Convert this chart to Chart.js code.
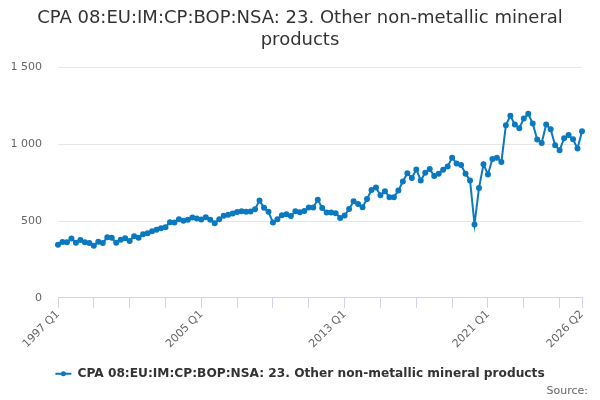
<!DOCTYPE html>
<html>
<head>
<meta charset="utf-8">
<script src="https://cdn.jsdelivr.net/npm/chart.js@4.4.1/dist/chart.umd.min.js"></script>
<style>
html, body { margin: 0; padding: 0; background: #fff; }
#wrap { width: 600px; height: 400px; }
</style>
</head>
<body>
<div id="wrap"><canvas id="chart"></canvas></div>
<script>
var seriesName = 'CPA 08:EU:IM:CP:BOP:NSA: 23. Other non-metallic mineral products';
var titleLines = ['CPA 08:EU:IM:CP:BOP:NSA: 23. Other non-metallic mineral', 'products'];
var sourceText = 'Source:';

// quarterly categories 1997 Q1 .. 2026 Q2
var quarters = [];
for (var yr = 1997; yr <= 2026; yr++) {
    for (var q = 1; q <= 4; q++) {
        if (yr === 2026 && q > 2) break;
        quarters.push(yr + ' Q' + q);
    }
}

var shownLabels = ['1997 Q1', '2005 Q1', '2013 Q1', '2021 Q1', '2026 Q2'];
var yTicks = [0, 500, 1000, 1500];

var values = [
    346, 364, 362, 386, 359, 377, 362, 357, 340, 366,
    357, 394, 392, 359, 379, 388, 370, 401, 392, 414,
    420, 433, 444, 453, 460, 492, 490, 512, 501, 508,
    523, 516, 510, 525, 508, 486, 512, 534, 540, 549,
    558, 564, 560, 562, 577, 634, 586, 560, 490, 512,
    538, 544, 532, 563, 557, 565, 588, 588, 639, 584,
    556, 556, 551, 520, 536, 578, 628, 610, 590, 643,
    702, 718, 667, 694, 655, 655, 699, 757, 811, 779,
    835, 764, 814, 838, 792, 807, 833, 855, 912, 874,
    864, 807, 764, 478, 714, 869, 803, 903, 912, 883,
    1122, 1185, 1127, 1103, 1166, 1197, 1134, 1030, 1008, 1127,
    1096, 992, 960, 1038, 1060, 1031, 971, 1083
];

var lineColor = '#0a79c0';
var font = 'DejaVu Sans';

// dot in the middle of the legend line, like the original
var legendDot = {
    id: 'legendDot',
    afterDraw: function (chart) {
        var boxes = chart.legend && chart.legend.legendHitBoxes;
        if (!boxes || !boxes.length) return;
        var b = boxes[0];
        var ctx = chart.ctx;
        ctx.save();
        ctx.fillStyle = lineColor;
        ctx.beginPath();
        ctx.arc(b.left + 8, b.top + b.height / 2, 2.5, 0, Math.PI * 2);
        ctx.fill();
        ctx.restore();
    }
};

var ctx = document.querySelector('#chart').getContext('2d');
var chart = new Chart(ctx, {
    type: 'line',
    data: {
        labels: quarters,
        datasets: [{
            label: seriesName,
            data: values,
            borderColor: lineColor,
            backgroundColor: lineColor,
            borderWidth: 2,
            pointRadius: 2,
            pointHoverRadius: 3,
            tension: 0,
            fill: false
        }]
    },
    options: {
        responsive: true,
        maintainAspectRatio: false,
        animation: false,
        layout: { padding: { left: 12, right: 12, top: 4, bottom: 2 } },
        scales: {
            x: {
                type: 'category',
                offset: false,
                afterBuildTicks: function (axis) {
                    axis.ticks = axis.ticks.filter(function (t) {
                        return t.value % 8 === 0 || t.value === quarters.length - 1;
                    });
                },
                afterFit: function (axis) {
                    axis.paddingLeft = 0;
                    axis.paddingRight = 18;
                    axis.height += 10;
                },
                ticks: {
                    autoSkip: false,
                    maxRotation: 45,
                    minRotation: 45,
                    color: '#666',
                    font: { family: font, size: 11 },
                    padding: 0,
                    callback: function (val) {
                        var lab = quarters[val];
                        return shownLabels.indexOf(lab) >= 0 ? lab : '';
                    }
                },
                grid: {
                    drawOnChartArea: false,
                    drawTicks: true,
                    tickLength: 10,
                    color: '#ccd6eb'
                },
                border: { display: true, color: '#ccd6eb' }
            },
            y: {
                min: 0,
                max: 1500,
                afterBuildTicks: function (axis) {
                    axis.ticks = yTicks.map(function (v) { return { value: v }; });
                },
                afterFit: function (axis) {
                    axis.width = 46;
                },
                ticks: {
                    color: '#666',
                    padding: 16,
                    font: { family: font, size: 11 },
                    callback: function (v) {
                        return String(v).replace(/\B(?=(\d{3})+(?!\d))/g, ' ');
                    }
                },
                grid: { color: '#e6e6e6', drawTicks: false },
                border: { display: false }
            }
        },
        plugins: {
            title: {
                display: true,
                text: titleLines,
                color: '#333',
                font: { family: font, size: 18, weight: 'normal', lineHeight: 1.2 },
                padding: { top: 4, bottom: 16 }
            },
            subtitle: {
                display: true,
                text: sourceText,
                position: 'bottom',
                align: 'end',
                color: '#666',
                font: { family: font, size: 11, weight: 'normal' },
                padding: { top: -5, bottom: 0 }
            },
            legend: {
                display: true,
                position: 'bottom',
                labels: {
                    usePointStyle: true,
                    pointStyle: 'line',
                    pointStyleWidth: 16,
                    boxHeight: 8,
                    color: '#333',
                    font: { family: font, size: 12.2, weight: 'bold' },
                    padding: 7
                }
            },
            tooltip: { enabled: false }
        }
    },
    plugins: [legendDot]
});
</script>
</body>
</html>
